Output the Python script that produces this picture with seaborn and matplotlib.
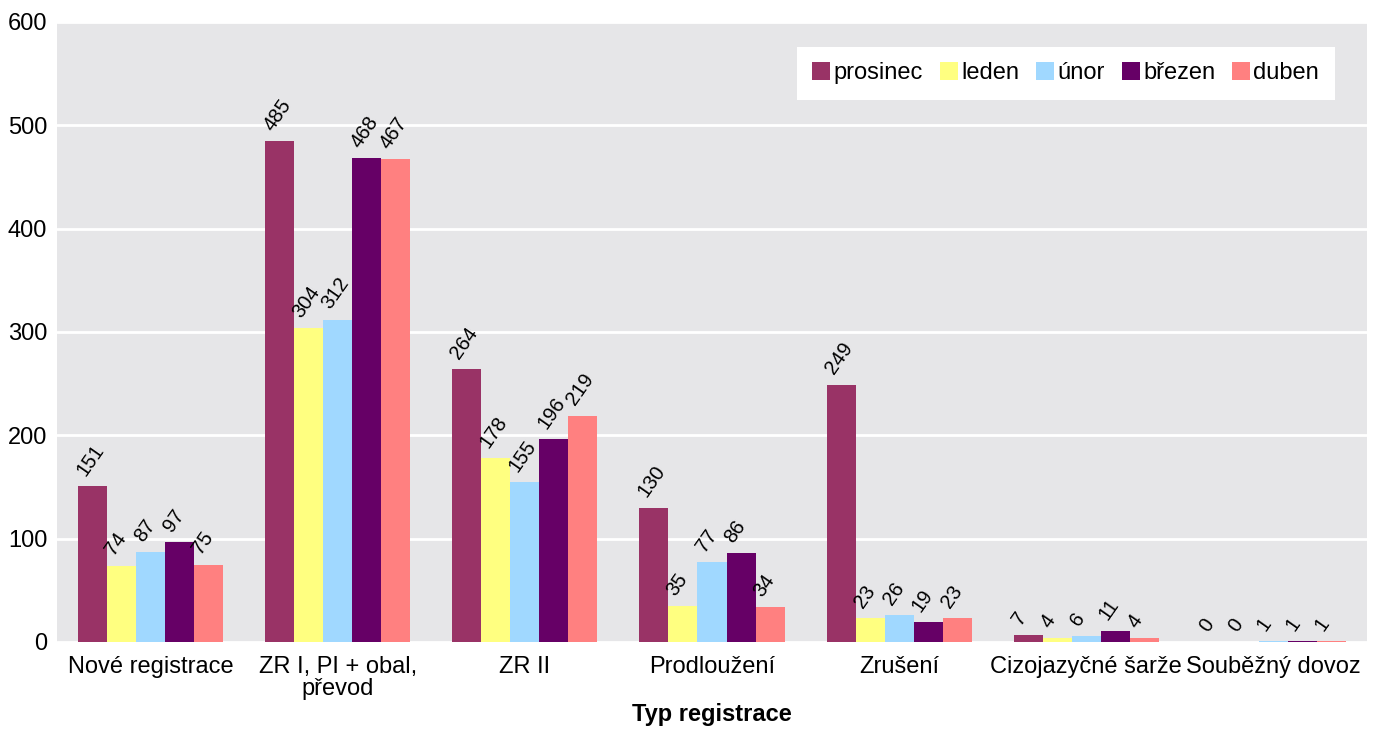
import matplotlib
matplotlib.use("Agg")
import matplotlib.pyplot as plt
import seaborn as sns
import pandas as pd

categories = ["Nové registrace", "ZR I, PI + obal,\npřevod", "ZR II", "Prodloužení",
              "Zrušení", "Cizojazyčné šarže", "Souběžný dovoz"]
months = ["prosinec", "leden", "únor", "březen", "duben"]
prosinec = [151, 485, 264, 130, 249, 7, 0]
leden = [74, 304, 178, 35, 23, 4, 0]
unor = [87, 312, 155, 77, 26, 6, 1]
brezen = [97, 468, 196, 86, 19, 11, 1]
duben = [75, 467, 219, 34, 23, 4, 1]
colors = ["#993366", "#FFFF80", "#A0D8FF", "#660066", "#FF8080"]

series = [prosinec, leden, unor, brezen, duben]
rows = []
for m, vals in zip(months, series):
    for c, v in zip(categories, vals):
        rows.append({"cat": c, "month": m, "value": v})
df = pd.DataFrame(rows)

sns.set_theme(style="white")
plt.rcParams["font.family"] = ["Liberation Sans", "DejaVu Sans"]
plt.rcParams["text.color"] = "black"

fig = plt.figure(figsize=(13.74, 7.31), dpi=100)
ax = fig.add_axes([57/1374, 1-642/731, (1367-57)/1374, (642-22)/731])
ax.set_facecolor("#E6E6E8")

sns.barplot(data=df, x="cat", y="value", hue="month", hue_order=months,
            order=categories, palette=colors, width=0.775, gap=0,
            saturation=1, ax=ax, linewidth=0, errorbar=None)

ax.set_ylim(0, 600)
ax.set_xlim(-0.5, len(categories) - 0.5)
ax.set_yticks(range(0, 601, 100))
ax.yaxis.grid(True, color="white", linewidth=2)
ax.set_axisbelow(True)
for s in ax.spines.values():
    s.set_visible(False)
ax.tick_params(axis="both", length=0, labelsize=17, colors="black")
ax.tick_params(axis="y", pad=7)
ax.tick_params(axis="x", pad=10)
for t in ax.get_xticklabels():
    t.set_linespacing(1.0)
ax.set_ylabel("")
ax.set_xlabel("Typ registrace", fontsize=17, fontweight="bold", labelpad=2, color="black")

for cont in ax.containers:
    for bar in cont:
        h = bar.get_height()
        ax.annotate(f"{int(h)}", (bar.get_x() + bar.get_width() / 2, h),
                    xytext=(-3, 5), textcoords="offset points",
                    rotation=55, ha="left", va="bottom", fontsize=14.5,
                    rotation_mode="anchor", color="black")

leg = ax.legend(loc="upper left",
                bbox_to_anchor=((797-57)/1310, (642-47)/620),
                ncol=5, frameon=True, fancybox=False,
                facecolor="white", fontsize=17, handlelength=0.75, handleheight=0.75,
                handletextpad=0.15, columnspacing=0.72, borderpad=0.65, framealpha=1,
                borderaxespad=0)
leg.get_frame().set_linewidth(0)
for t in leg.get_texts():
    t.set_color("black")

fig.savefig("out.png", dpi=100, facecolor="white")
